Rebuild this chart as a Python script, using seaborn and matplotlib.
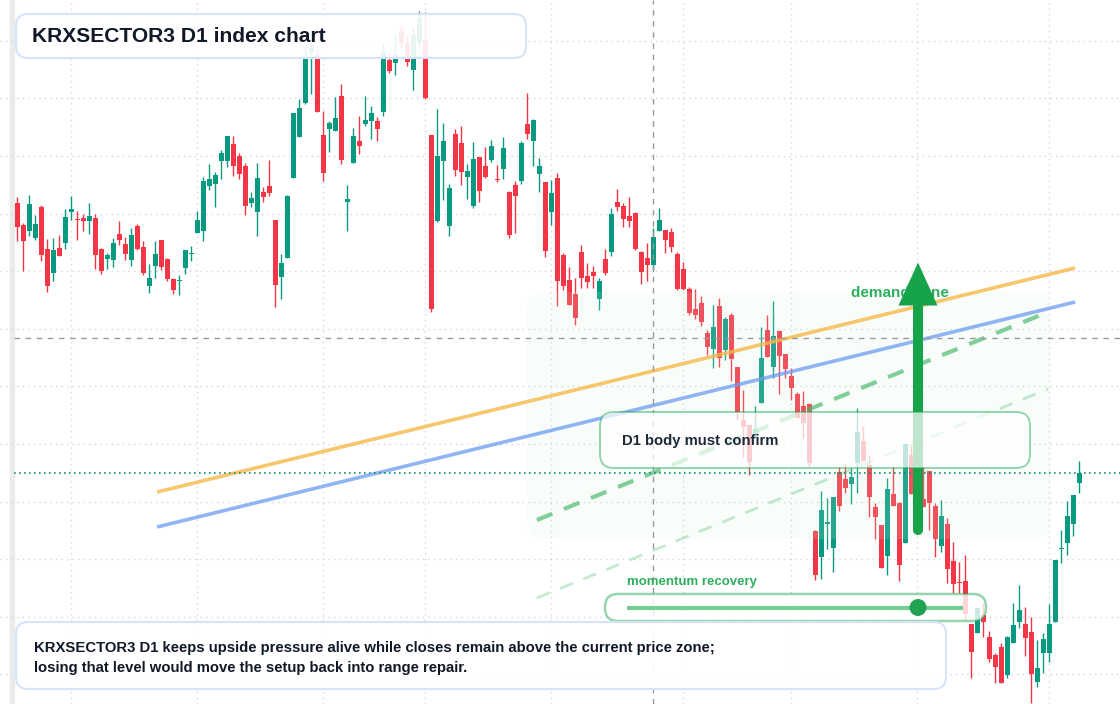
import matplotlib.pyplot as plt
import matplotlib.transforms as mtransforms
from matplotlib.colors import to_rgba
from matplotlib.patches import FancyBboxPatch, FancyArrow, Circle, Rectangle
import numpy as np
import pandas as pd
import seaborn as sns

sns.set_theme(style="white")
plt.rcParams['font.family'] = ['Liberation Sans', 'DejaVu Sans']

# daily candles, index points
opens = [501, 479, 473, 466, 497, 455, 431, 456, 461, 492,
         485, 486, 483, 486, 455, 445, 444, 470, 460, 444,
         478, 457, 418, 438, 464, 445, 425, 423, 436, 450,
         471, 473, 518, 520, 543, 543, 560, 548, 538, 501,
         492, 512, 518, 484, 427, 446, 526, 567, 601, 652,
         649, 569, 575, 573, 608, 502, 541, 563, 580, 583,
         583, 592, 644, 641, 673, 661, 634, 661, 664, 569,
         483, 543, 478, 570, 561, 527, 498, 547, 538, 544,
         525, 535, 512, 519, 523, 580, 563, 530, 522, 492,
         526, 449, 424, 410, 452, 428, 432, 405, 445, 452,
         502, 498, 488, 491, 452, 446, 439, 473, 474, 472,
         450, 435, 415, 395, 401, 371, 355, 398, 354, 389,
         337, 284, 279, 267, 301, 374, 337, 373, 350, 328,
         310, 298, 300, 173, 147, 180, 156, 232, 225, 220,
         241, 263, 239, 197, 179, 148, 210, 201, 161, 249,
         204, 205, 233, 198, 158, 180, 143, 122, 123, 80,
         71, 89, 67, 49, 57, 29, 61, 82, 80, 72,
         22, 51, 51, 82, 155, 161, 180, 221]
highs = [507, 481, 509, 489, 499, 465, 466, 469, 495, 508,
         493, 490, 501, 490, 456, 451, 466, 483, 467, 476,
         480, 463, 440, 463, 464, 446, 426, 429, 454, 458,
         493, 527, 540, 532, 554, 568, 568, 551, 541, 512,
         541, 517, 544, 484, 450, 509, 591, 605, 657, 661,
         654, 593, 583, 607, 620, 519, 576, 588, 608, 598,
         587, 660, 652, 670, 677, 669, 676, 693, 692, 569,
         595, 581, 520, 575, 578, 540, 562, 547, 557, 564,
         539, 567, 513, 523, 563, 611, 585, 546, 522, 524,
         531, 451, 437, 426, 459, 441, 438, 426, 455, 496,
         515, 501, 507, 492, 453, 461, 476, 496, 474, 476,
         452, 442, 417, 415, 408, 374, 399, 406, 387, 391,
         337, 314, 279, 298, 377, 389, 403, 373, 350, 336,
         312, 313, 301, 174, 213, 206, 207, 237, 241, 236,
         296, 278, 249, 201, 179, 226, 238, 202, 261, 258,
         242, 238, 233, 201, 204, 186, 162, 142, 149, 80,
         96, 101, 73, 51, 61, 68, 101, 119, 97, 87,
         64, 71, 100, 144, 174, 203, 209, 243]
lows = [463, 433, 468, 464, 443, 412, 423, 448, 455, 484,
        464, 473, 470, 435, 430, 435, 437, 459, 444, 438,
        454, 429, 411, 426, 434, 423, 410, 409, 430, 443,
        471, 463, 514, 497, 525, 537, 528, 525, 489, 497,
        468, 502, 508, 397, 405, 446, 526, 567, 600, 610,
        592, 523, 552, 573, 540, 473, 541, 550, 578, 565,
        563, 588, 631, 629, 656, 638, 614, 656, 605, 392,
        482, 504, 468, 528, 519, 505, 496, 502, 526, 542,
        522, 525, 466, 471, 520, 565, 538, 512, 447, 479,
        398, 414, 399, 379, 416, 416, 416, 394, 429, 448,
        493, 477, 477, 454, 420, 423, 433, 473, 451, 452,
        414, 414, 389, 385, 378, 349, 336, 337, 344, 323,
        284, 247, 229, 267, 301, 347, 326, 310, 326, 304,
        286, 266, 237, 124, 125, 155, 132, 193, 211, 200,
        211, 243, 187, 165, 136, 129, 198, 123, 161, 210,
        184, 197, 174, 147, 152, 121, 111, 111, 84, 26,
        71, 67, 42, 21, 21, 26, 61, 76, 48, 1,
        17, 31, 42, 82, 141, 149, 168, 211]
closes = [477, 463, 500, 480, 449, 418, 454, 448, 487, 495,
          484, 483, 488, 449, 433, 449, 461, 464, 450, 469,
          455, 431, 426, 450, 437, 425, 414, 424, 454, 451,
          484, 523, 525, 529, 551, 568, 538, 530, 498, 506,
          526, 507, 511, 419, 441, 508, 591, 596, 645, 657,
          592, 531, 581, 586, 544, 505, 568, 558, 584, 591,
          575, 652, 633, 649, 661, 642, 669, 686, 606, 395,
          548, 563, 516, 534, 532, 533, 545, 513, 527, 558,
          524, 556, 469, 508, 561, 570, 584, 538, 453, 511,
          423, 418, 399, 386, 426, 422, 428, 423, 431, 490,
          497, 485, 483, 455, 432, 439, 467, 484, 464, 457,
          415, 415, 391, 389, 382, 357, 377, 346, 385, 345,
          292, 277, 242, 275, 346, 347, 368, 348, 335, 316,
          286, 281, 241, 129, 194, 182, 207, 198, 216, 227,
          272, 243, 207, 187, 136, 215, 198, 139, 260, 210,
          234, 197, 201, 165, 188, 135, 120, 121, 90, 52,
          96, 82, 45, 37, 21, 67, 79, 94, 66, 30,
          36, 65, 80, 144, 156, 188, 209, 231]

month_starts = [9, 30, 51, 68, 89, 111, 129, 150, 172]
price_grid = [30, 87, 145, 202, 260, 318, 375, 433, 490, 548, 606, 663]
crosshair_idx = 106
crosshair_price = 366

# trend lines (candle index, price)
upper_trend_x = [23.3, 176.3]
upper_trend_y = [212, 436]
lower_trend_x = [23.3, 176.3]
lower_trend_y = [177, 402]
channel_x = [86.6, 171.8]
channel_top_y = [184, 392]
channel_low_y = [106, 315]

UP = '#089981'
DOWN = '#f23645'
GREEN = '#16a34a'

df = pd.DataFrame({'open': opens, 'high': highs, 'low': lows, 'close': closes})
df['idx'] = np.arange(len(df))
df['up'] = df['close'] >= df['open']
df['color'] = np.where(df['up'], UP, DOWN)

W, H = 1120, 704
fig = plt.figure(figsize=(W / 100, H / 100), dpi=100)
ax = fig.add_axes([0, 0, 1, 1])

# pixel coords with origin at top-left
pix = mtransforms.Affine2D().scale(1 / 100, -1 / 100).translate(0, H / 100) + fig.dpi_scale_trans

ax.set_xticks(month_starts)
ax.set_yticks(price_grid)
ax.tick_params(left=False, bottom=False, labelleft=False, labelbottom=False)
ax.grid(True, color='#d6d6d6', linestyle=(0, (1, 3)), linewidth=1)
ax.set_axisbelow(True)
for s in ax.spines.values():
    s.set_visible(False)

# left strip
ax.add_patch(Rectangle((10, 0), 4, H, transform=pix, color='#ebebeb', zorder=0.5, clip_on=False))


def rbox(x0, y0, x1, y1, r, fc, fa, ec, ea, lw, z):
    p = FancyBboxPatch((x0, y0), x1 - x0, y1 - y0, boxstyle=f"round,pad=0,rounding_size={r}",
                       transform=pix, facecolor=to_rgba(fc, fa), edgecolor=to_rgba(ec, ea),
                       linewidth=lw, zorder=z, clip_on=False)
    ax.add_patch(p)


# candles
ax.vlines(df['idx'], df['low'], df['high'], colors=df['color'], linewidth=1.0, zorder=3)
body_low = df[['open', 'close']].min(axis=1)
body_h = (df['close'] - df['open']).abs().clip(lower=1.2)
ax.bar(df['idx'], body_h, bottom=body_low, width=0.84, color=df['color'], linewidth=0, zorder=3)

# demand zone (light wash over the candles)
rbox(527, 292, 1050, 539, 16, '#d8f3e0', 0.15, GREEN, 0.0, 0, 3.5)

# crosshair
ax.axvline(crosshair_idx, color='#9a9a9a', linestyle=(0, (4, 4)), linewidth=1, zorder=5)
ax.axhline(crosshair_price, xmin=14 / W, color='#9a9a9a', linestyle=(0, (4, 4)), linewidth=1, zorder=5)

# last price line
ax.axhline(closes[-1], xmin=14 / W, color='#12906f', linestyle=(0, (1, 2)), linewidth=1.2, zorder=5)

# trend lines
ax.plot(upper_trend_x, upper_trend_y, color='#f5b94a', linewidth=2.6, alpha=0.8, zorder=4,
        solid_capstyle='butt')
ax.plot(lower_trend_x, lower_trend_y, color='#6d9cf0', linewidth=2.6, alpha=0.75, zorder=4,
        solid_capstyle='butt')
ax.plot(channel_x, channel_top_y, color='#3fb768', linewidth=3, alpha=0.65, zorder=4,
        linestyle=(0, (4, 3)))
ax.plot(channel_x, channel_low_y, color='#3fb768', linewidth=2, alpha=0.3, zorder=4,
        linestyle=(0, (5, 4)))

# demand zone label and arrow
ax.text(851, 293, 'demand zone', transform=pix, fontsize=11, fontweight='bold',
        color='#2fae5e', va='center', ha='left', zorder=5)
ax.add_patch(FancyArrow(918, 530, 0, -267.5, width=10, head_width=39, head_length=43,
                        length_includes_head=True, transform=pix, color=GREEN, zorder=6,
                        linewidth=0))
ax.add_patch(Circle((918, 530), 5, transform=pix, color=GREEN, zorder=6, linewidth=0))

# confirmation box
rbox(600, 412, 1030, 468, 14, 'white', 0.72, GREEN, 0.45, 1.4, 7)
ax.text(622, 441, 'D1 body must confirm', transform=pix, fontsize=10.7, fontweight='bold',
        color='#1f2937', va='center', ha='left', zorder=8)

# momentum pill
ax.text(627, 582, 'momentum recovery', transform=pix, fontsize=9.5, fontweight='bold',
        color='#2fae5e', va='center', ha='left', zorder=8)
rbox(605, 594, 986, 621, 13, 'white', 0.8, GREEN, 0.45, 1.8, 7)
ax.plot([627, 963], [607.5, 607.5], transform=pix, color='#3fb768', alpha=0.7,
        linewidth=3, zorder=8, solid_capstyle='butt')
sns.scatterplot(x=[918], y=[607.5], ax=ax, transform=pix, s=150, color='#22a352',
                edgecolor='none', zorder=9, legend=False)

# title box
rbox(16, 14, 526, 58, 12, 'white', 0.9, '#d6e4fa', 1.0, 1.5, 9)
ax.text(32, 36, 'KRXSECTOR3 D1 index chart', transform=pix, fontsize=15.1, fontweight='bold',
        color='#111827', va='center', ha='left', zorder=10)

# note box
rbox(16, 622, 946, 689, 12, 'white', 0.92, '#d6e4fa', 1.0, 1.5, 9)
ax.text(34, 648, 'KRXSECTOR3 D1 keeps upside pressure alive while closes remain above the current price zone;',
        transform=pix, fontsize=10.7, fontweight='bold', color='#111827', va='center', ha='left', zorder=10)
ax.text(34, 668, 'losing that level would move the setup back into range repair.',
        transform=pix, fontsize=10.7, fontweight='bold', color='#111827', va='center', ha='left', zorder=10)

ax.set_xlim(-17.3 / 6, (W - 17.3) / 6)
ax.set_ylim(0, H)
fig.savefig('out.png', dpi=100)
